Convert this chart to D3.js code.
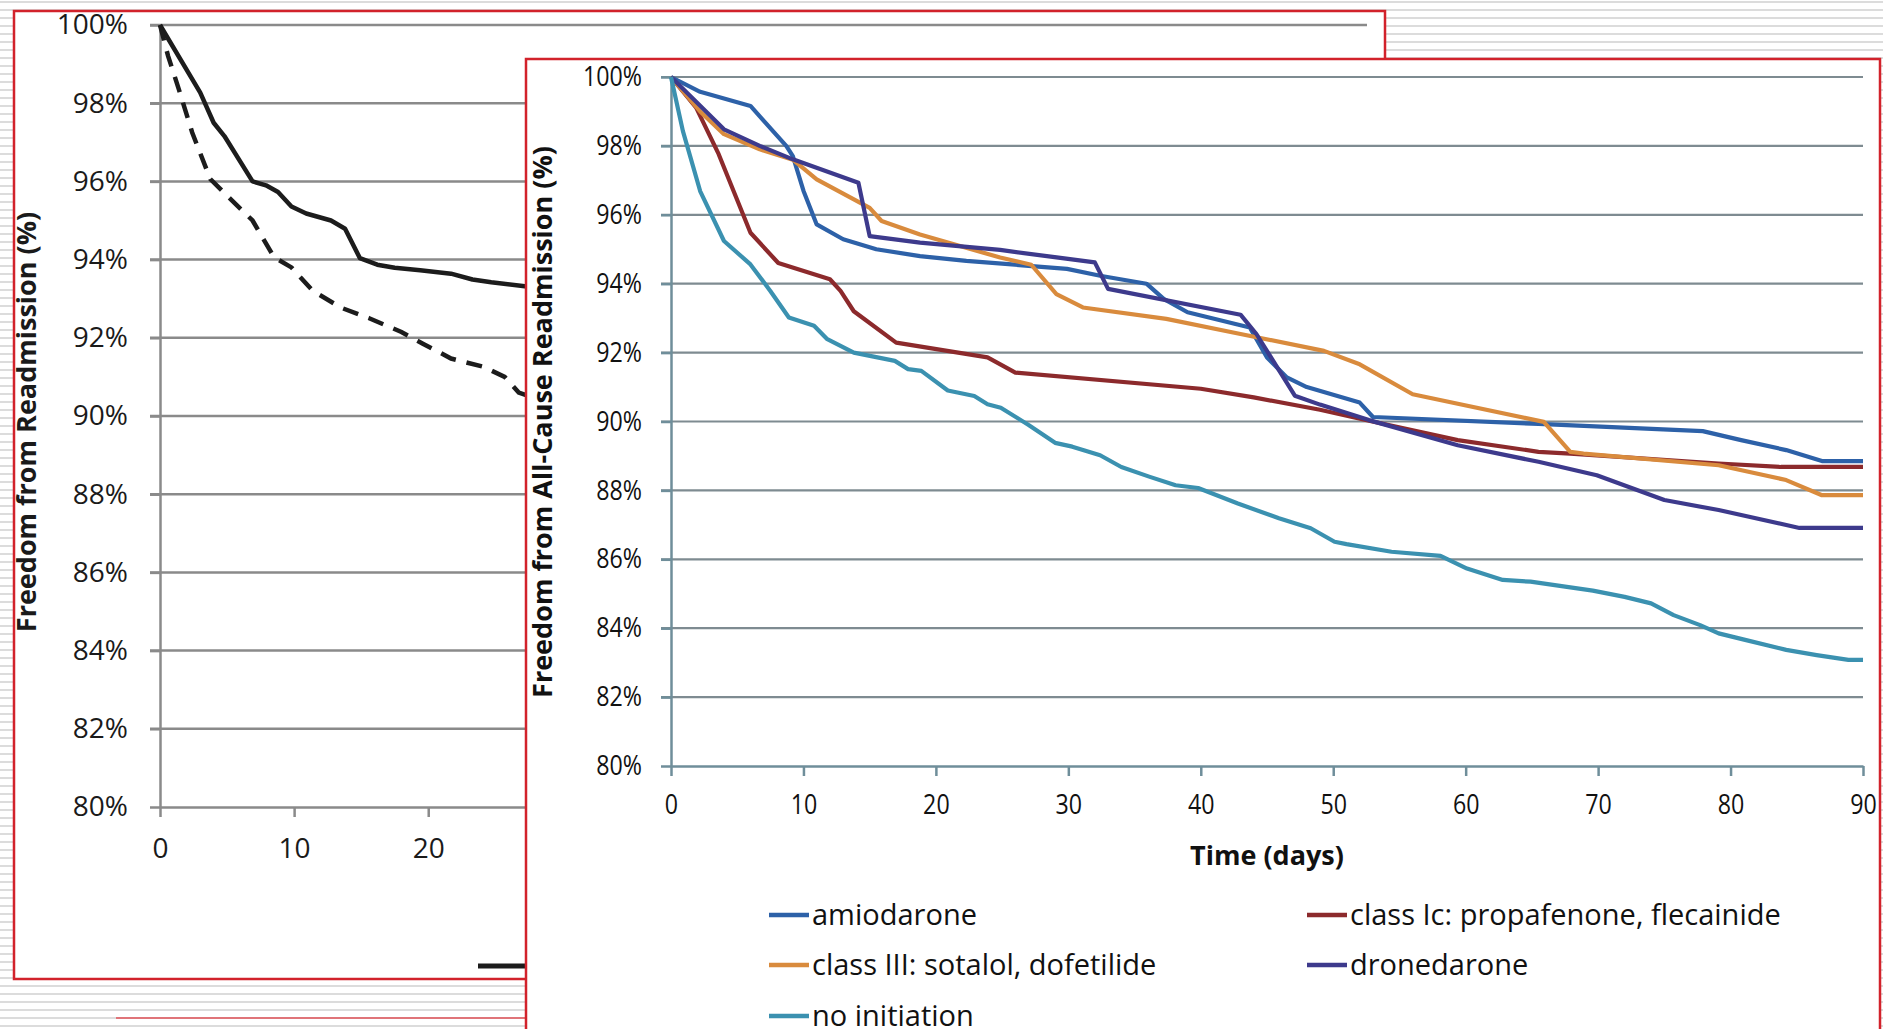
<!DOCTYPE html>
<html>
<head>
<meta charset="utf-8">
<script src="https://cdn.jsdelivr.net/npm/d3@7"></script>
<style>
    body { margin: 0; background: #fff; }
    svg { display: block; font-family: "Open Sans", sans-serif; }
</style>
</head>
<body>
<svg id="chart" width="1883" height="1029"></svg>
<script>
// ---- données ----
const yTicks = [80, 82, 84, 86, 88, 90, 92, 94, 96, 98, 100]
const xTicks = [0, 10, 20, 30, 40, 50, 60, 70, 80, 90]

// graphique du fond (en partie caché)
const backSolid = [[0, 100], [3, 98.27], [4, 97.5], [4.8, 97.16], [6.9, 96.0], [7.9, 95.9], [8.8, 95.73],
    [9.8, 95.36], [10.9, 95.18], [12.75, 95.0], [13.8, 94.79], [14.9, 94.04], [16.2, 93.87], [17.5, 93.79],
    [19.4, 93.73], [21.7, 93.64], [23.3, 93.49], [24.7, 93.42], [27.2, 93.32], [30, 93.2]]
const backDashed = [[0, 100], [0.6, 99.21], [1.4, 98.36], [2.4, 97.25], [3.75, 96.06], [5.1, 95.6], [6.9, 95.0],
    [8.5, 94.06], [9.8, 93.8], [11.4, 93.2], [13.5, 92.77], [15.6, 92.5], [18, 92.15], [19.6, 91.85],
    [21.7, 91.47], [24.1, 91.26], [25.7, 91.0], [26.75, 90.6], [30, 90.2]]

// graphique de devant
const amiodarone = [[0, 100], [2.2, 99.57], [6, 99.16], [8.7, 98.0], [9.2, 97.7], [10, 96.7], [11, 95.72],
    [13, 95.29], [15.5, 95.0], [18.8, 94.8], [22.3, 94.66], [27, 94.52], [29.9, 94.43], [32.4, 94.23],
    [35.9, 94.0], [37.2, 93.56], [39, 93.17], [43.7, 92.73], [45, 91.86], [46.5, 91.28], [48, 91.0],
    [52, 90.55], [53, 90.13], [65.5, 89.93], [77.9, 89.72], [80.8, 89.46], [84.2, 89.17], [86.9, 88.85], [90, 88.85]]
const classIc = [[0, 100], [1.9, 99.11], [3.6, 97.76], [6, 95.48], [8.1, 94.6], [12, 94.13], [12.8, 93.79],
    [13.8, 93.2], [17, 92.29], [23.9, 91.86], [26, 91.42], [40, 90.95], [44, 90.7], [49, 90.34], [52.7, 90.02],
    [59.4, 89.46], [65.5, 89.12], [67.9, 89.07], [79.1, 88.78], [83.8, 88.68], [90, 88.68]]
const classIII = [[0, 100], [2.2, 99.0], [4, 98.34], [6.7, 97.9], [9.2, 97.6], [11, 97.03], [15, 96.2],
    [15.9, 95.82], [18.8, 95.43], [24.85, 94.76], [27.2, 94.55], [29.1, 93.7], [31.1, 93.31], [37.4, 92.98],
    [43, 92.54], [49.3, 92.05], [52, 91.66], [56, 90.79], [65.9, 89.99], [67.9, 89.12], [68.9, 89.07],
    [79.1, 88.73], [84.2, 88.3], [86.9, 87.86], [90, 87.86]]
const dronedarone = [[0, 100], [4, 98.48], [6.7, 98.0], [9.2, 97.61], [14.15, 96.93], [15, 95.38], [18.8, 95.19],
    [24.85, 94.98], [32, 94.62], [33, 93.85], [43, 93.1], [44.2, 92.54], [47.1, 90.75], [49, 90.49],
    [52.7, 90.04], [59.4, 89.31], [65.5, 88.83], [69.9, 88.44], [75, 87.72], [79.1, 87.43], [85.2, 86.91], [90, 86.91]]
const noInitiation = [[0, 100], [0.9, 98.43], [2.2, 96.69], [4, 95.24], [6, 94.56], [7.5, 93.79], [8.9, 93.02],
    [10.8, 92.78], [11.8, 92.39], [13.8, 92.0], [16.9, 91.76], [17.9, 91.52], [18.9, 91.47], [20.9, 90.9],
    [22.9, 90.74], [23.9, 90.5], [24.9, 90.4], [27, 89.9], [29, 89.38], [30.3, 89.27], [32.4, 89.02], [34, 88.68],
    [36.1, 88.4], [38.1, 88.15], [39.8, 88.07], [42.8, 87.62], [45.9, 87.19], [48.3, 86.9], [50.1, 86.51],
    [51, 86.44], [54.4, 86.22], [58.1, 86.1], [60.1, 85.73], [62.8, 85.4], [64.9, 85.35], [69.6, 85.09],
    [72, 84.91], [74, 84.72], [75.7, 84.38], [77.7, 84.09], [79.1, 83.85], [81.1, 83.66], [84.2, 83.37],
    [86.5, 83.22], [88.9, 83.08], [90, 83.08]]

const legendLabels = ["amiodarone", "class Ic: propafenone, flecainide", "class III: sotalol, dofetilide",
    "dronedarone", "no initiation"]
const frontSeries = [amiodarone, classIc, classIII, dronedarone, noInitiation]
const frontColors = ["#2d61a8", "#8c2a2c", "#d98b3d", "#3d3a8c", "#3b91b0"]

const svg = d3.select("#chart");

// Fond rayé
const bg = svg.append("g");
bg.selectAll("line")
    .data(d3.range(2, 1029, 8))
    .enter()
    .append("line")
    .attr("x1", 0)
    .attr("x2", 1883)
    .attr("y1", d => d)
    .attr("y2", d => d)
    .attr("stroke", "#dcdcdc")
    .attr("stroke-width", 2)
bg.append("line")
    .attr("x1", 116).attr("x2", 526)
    .attr("y1", 1018).attr("y2", 1018)
    .attr("stroke", "#e07479")
    .attr("stroke-width", 2)

// ---- Graphique du fond ----
const gA = svg.append("g");
gA.append("rect")
    .attr("x", 14).attr("y", 11)
    .attr("width", 1371).attr("height", 968)
    .attr("fill", "#fff")
    .attr("stroke", "#d2222b")
    .attr("stroke-width", 2.5)

const xA = d3.scaleLinear().domain([0, 90]).range([160, 1367]);
const yA = d3.scaleLinear().domain([80, 100]).range([807, 25]);

gA.selectAll(".gridA")
    .data(yTicks.slice(1))
    .enter()
    .append("line")
    .attr("x1", 150)
    .attr("x2", xA(90))
    .attr("y1", d => yA(d))
    .attr("y2", d => yA(d))
    .attr("stroke", "#8a8a8a")
    .attr("stroke-width", 2.5)

const axisA_y = gA.append("g")
    .attr("transform", "translate(" + xA(0) + ",0)")
    .call(d3.axisLeft(yA).tickValues(yTicks).tickSize(10).tickSizeOuter(0).tickPadding(22)
        .tickFormat(d => d + "%"))
const axisA_x = gA.append("g")
    .attr("transform", "translate(0," + yA(80) + ")")
    .call(d3.axisBottom(xA).tickValues(xTicks).tickSize(10).tickSizeOuter(0).tickPadding(21))
// les étiquettes cachées derrière le graphique de devant ne sont pas écrites
axisA_x.selectAll(".tick text")
    .filter(d => xA(d) > 500)
    .remove()
gA.selectAll(".domain, .tick line")
    .attr("stroke", "#8a8a8a")
    .attr("stroke-width", 2.5)
gA.selectAll(".tick text")
    .attr("fill", "#1a1a1a")
    .style("font-size", "28px")
    .style("font-family", "Open Sans")

gA.append("text")
    .attr("transform", "translate(27,422) rotate(-90)")
    .attr("text-anchor", "middle")
    .attr("dy", "0.35em")
    .style("font-size", "27px")
    .style("font-weight", "bold")
    .attr("fill", "#1a1a1a")
    .text("Freedom from Readmission (%)")

const lineA = d3.line().x(d => xA(d[0])).y(d => yA(d[1]));
gA.append("path")
    .datum(backSolid)
    .attr("d", lineA)
    .attr("fill", "none")
    .attr("stroke", "#1c1c1c")
    .attr("stroke-width", 4.5)
    .attr("stroke-linejoin", "round")
gA.append("path")
    .datum(backDashed)
    .attr("d", lineA)
    .attr("fill", "none")
    .attr("stroke", "#1c1c1c")
    .attr("stroke-width", 4.5)
    .attr("stroke-dasharray", "16 11")

// légende du fond (cachée)
gA.append("line")
    .attr("x1", 478).attr("x2", 540)
    .attr("y1", 966).attr("y2", 966)
    .attr("stroke", "#1c1c1c")
    .attr("stroke-width", 5)

// ---- Graphique de devant ----
const gB = svg.append("g");
gB.append("rect")
    .attr("x", 526).attr("y", 59)
    .attr("width", 1354).attr("height", 1000)
    .attr("fill", "#fff")
    .attr("stroke", "#d2222b")
    .attr("stroke-width", 2.5)

const xB = d3.scaleLinear().domain([0, 90]).range([671, 1863]);
const yB = d3.scaleLinear().domain([80, 100]).range([766, 77]);
const sq = 0.86;

gB.selectAll(".gridB")
    .data(yTicks.slice(1))
    .enter()
    .append("line")
    .attr("x1", 661)
    .attr("x2", xB(90))
    .attr("y1", d => yB(d))
    .attr("y2", d => yB(d))
    .attr("stroke", "#7e8b91")
    .attr("stroke-width", 2.2)

const axisB_y = gB.append("g")
    .attr("transform", "translate(" + xB(0) + ",0)")
    .call(d3.axisLeft(yB).tickValues(yTicks).tickSize(10).tickSizeOuter(0).tickPadding(19)
        .tickFormat(d => d + "%"))
const axisB_x = gB.append("g")
    .attr("transform", "translate(0," + yB(80) + ")")
    .call(d3.axisBottom(xB).tickValues(xTicks).tickSize(10).tickSizeOuter(0).tickPadding(19))
gB.selectAll(".domain, .tick line")
    .attr("stroke", "#6f8e9a")
    .attr("stroke-width", 2.5)
gB.selectAll(".tick text")
    .attr("fill", "#111")
    .style("font-size", "27px")
    .style("font-family", "Open Sans")
    .attr("transform", "scale(" + sq + ",1)")
axisB_y.selectAll(".tick text").attr("x", -29 / sq)

gB.append("text")
    .attr("transform", "translate(543,422) rotate(-90)")
    .attr("text-anchor", "middle")
    .attr("dy", "0.35em")
    .style("font-size", "27px")
    .style("font-weight", "bold")
    .attr("fill", "#111")
    .text("Freedom from All-Cause Readmission (%)")

gB.append("text")
    .attr("transform", "translate(1267,856)")
    .attr("text-anchor", "middle")
    .attr("dy", "0.35em")
    .style("font-size", "27px")
    .style("font-weight", "bold")
    .attr("fill", "#111")
    .text("Time (days)")

const lineB = d3.line().x(d => xB(d[0])).y(d => yB(d[1]));
gB.selectAll(".serie")
    .data(frontSeries)
    .enter()
    .append("path")
    .attr("d", lineB)
    .attr("fill", "none")
    .attr("stroke", (d, i) => frontColors[i])
    .attr("stroke-width", 4.2)
    .attr("stroke-linejoin", "round")

// Légende
const legX = [769, 1307];
const legY = [915, 965, 1016];
const leg = gB.selectAll(".leg")
    .data(legendLabels)
    .enter()
    .append("g")
    .attr("transform", (d, i) => "translate(" + legX[i % 2] + "," + legY[Math.floor(i / 2)] + ")")
leg.append("line")
    .attr("x1", 0).attr("x2", 40)
    .attr("stroke", (d, i) => frontColors[i])
    .attr("stroke-width", 4.5)
leg.append("text")
    .attr("x", 43)
    .attr("dy", "0.35em")
    .style("font-size", "29px")
    .attr("fill", "#111")
    .text(d => d)
</script>
</body>
</html>
